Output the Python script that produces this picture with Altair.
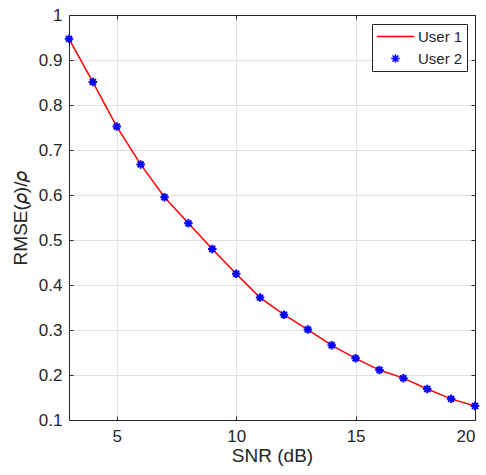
import altair as alt
import pandas as pd

snr = list(range(3, 21))
user1 = [0.947, 0.851, 0.752, 0.668, 0.595, 0.537, 0.480, 0.425, 0.372,
         0.334, 0.301, 0.266, 0.237, 0.211, 0.193, 0.169, 0.147, 0.131]
user2 = [0.947, 0.851, 0.752, 0.668, 0.595, 0.537, 0.480, 0.425, 0.372,
         0.334, 0.301, 0.266, 0.237, 0.211, 0.193, 0.169, 0.147, 0.131]
series = ["User 1", "User 2"]
x_ticks = [5, 10, 15, 20]
y_ticks = [0.1, 0.2, 0.3, 0.4, 0.5, 0.6, 0.7, 0.8, 0.9, 1.0]

df1 = pd.DataFrame({"snr": snr, "val": user1, "series": "User 1"})
df2 = pd.DataFrame({"snr": snr, "val": user2, "series": "User 2"})

W, H = 406, 405
FONT = "Liberation Sans"
DARK = "#262626"
GRID = "#e3e3e3"
ASTERISK = "M0,-1L0,1M-1,0L1,0M-0.7,-0.7L0.7,0.7M-0.7,0.7L0.7,-0.7"

xs = alt.Scale(domain=[3, 20], nice=False, zero=False)
ys = alt.Scale(domain=[0.1, 1.0], nice=False, zero=False)
cs = alt.Scale(domain=series, range=["#ff0000", "#0000ff"])
ss = alt.Scale(domain=series, range=["stroke", ASTERISK])
zs = alt.Scale(domain=series, range=[1400, 72])

main_x = alt.Axis(orient="bottom", values=x_ticks, grid=True, gridColor=GRID,
                  ticks=False, domain=True, domainColor=DARK, labelFont=FONT,
                  labelFontSize=17, labelColor=DARK, labelPadding=8,
                  title="SNR (dB)", titleFont=FONT, titleFontSize=19,
                  titleFontWeight="normal", titleColor=DARK, titlePadding=2)
main_y = alt.Axis(orient="left", values=y_ticks, format=".1~f", grid=True,
                  gridColor=GRID, ticks=False, domain=True, domainColor=DARK,
                  labelFont=FONT, labelFontSize=17, labelColor=DARK,
                  labelPadding=7, title="RMSE(𝜌)/𝜌", titleFont=FONT,
                  titleFontSize=19, titleFontWeight="normal", titleColor=DARK,
                  titlePadding=8)

line = alt.Chart(df1).mark_line(strokeWidth=1.5).encode(
    x=alt.X("snr:Q", scale=xs, axis=main_x),
    y=alt.Y("val:Q", scale=ys, axis=main_y),
    color=alt.Color("series:N", scale=cs, legend=alt.Legend(title=None)),
)

pts = alt.Chart(df2).mark_point(filled=False, strokeWidth=2, opacity=1).encode(
    x=alt.X("snr:Q", scale=xs, axis=None),
    y=alt.Y("val:Q", scale=ys, axis=None),
    color=alt.Color("series:N", scale=cs, legend=alt.Legend(title=None)),
    shape=alt.Shape("series:N", scale=ss, legend=alt.Legend(title=None)),
    size=alt.Size("series:N", scale=zs, legend=alt.Legend(title=None)),
)

# inward ticks on bottom and left edges
t1 = alt.Chart(df1).mark_point(opacity=0).encode(
    x=alt.X("snr:Q", scale=xs, axis=alt.Axis(orient="top", offset=-H, values=x_ticks,
            labels=False, domain=False, grid=False, ticks=True, tickSize=4,
            tickColor=DARK, title=None)),
    y=alt.Y("val:Q", scale=ys, axis=alt.Axis(orient="right", offset=-W, values=y_ticks,
            labels=False, domain=False, grid=False, ticks=True, tickSize=4,
            tickColor=DARK, title=None)),
)
# box top/right edges with inward ticks
t2 = alt.Chart(df1).mark_point(opacity=0).encode(
    x=alt.X("snr:Q", scale=xs, axis=alt.Axis(orient="bottom", offset=-H, values=x_ticks,
            labels=False, domain=True, domainColor=DARK, grid=False, ticks=True,
            tickSize=4, tickColor=DARK, title=None)),
    y=alt.Y("val:Q", scale=ys, axis=alt.Axis(orient="left", offset=-W, values=y_ticks,
            labels=False, domain=True, domainColor=DARK, grid=False, ticks=True,
            tickSize=4, tickColor=DARK, title=None)),
)

chart = alt.layer(line, pts, t1, t2).resolve_axis(
    x="independent", y="independent"
).properties(
    width=W, height=H,
    autosize=alt.AutoSizeParams(type="none"),
    padding={"left": 69, "top": 15, "right": 11, "bottom": 55},
).configure_view(stroke=None).configure_legend(
    orient="none", legendX=303, legendY=9, fillColor="white",
    strokeColor=DARK, padding=4, labelFont=FONT, labelFontSize=15,
    labelColor=DARK, symbolStrokeWidth=1.5, rowPadding=5, labelOffset=3,
    cornerRadius=0, clipHeight=17,
)

chart.save("out.html", embed_options={"renderer": "svg", "actions": False})
